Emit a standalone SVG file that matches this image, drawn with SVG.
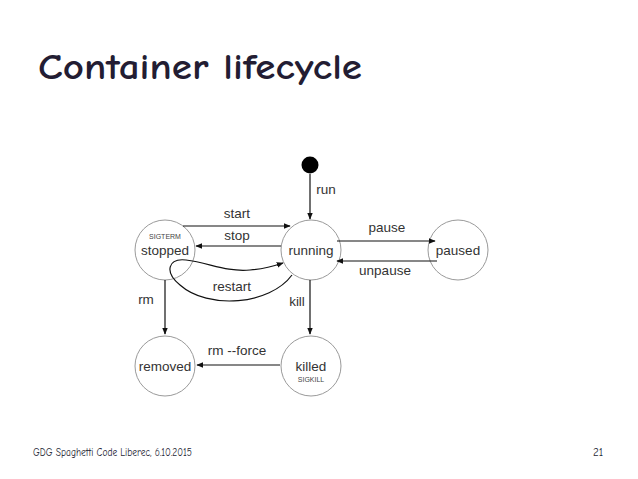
<svg xmlns="http://www.w3.org/2000/svg" width="638" height="479" viewBox="0 0 638 479">
<style>
.node{fill:#fff;stroke:#9a9a9a;stroke-width:1}
.lbl{font-family:"Liberation Sans",Arial,sans-serif;font-size:13.5px;fill:#333;text-anchor:middle}
.sm{font-family:"Liberation Sans",Arial,sans-serif;font-size:7px;fill:#444;text-anchor:middle}
.edge{fill:none;stroke:#111;stroke-width:1.2;marker-end:url(#ah)}
.el{font-family:"Liberation Sans",Arial,sans-serif;font-size:13.5px;fill:#333;text-anchor:middle}
</style>
<defs>
<marker id="ah" viewBox="0 0 10 10" refX="9" refY="5" markerWidth="7" markerHeight="7" markerUnits="userSpaceOnUse" orient="auto">
<path d="M0,1 L10,5 L0,9 z" fill="#111"/>
</marker>
</defs>
<rect width="638" height="479" fill="#fff"/>
<text x="38" y="79" font-family="'Comic Neue','DejaVu Sans',sans-serif" font-weight="bold" font-size="36" fill="#231d33" textLength="324" lengthAdjust="spacingAndGlyphs">Container lifecycle</text>
<g id="start"><circle cx="310" cy="165" r="8.5" fill="#000"/></g>
<g id="stopped"><circle class="node" cx="165" cy="250" r="30"/><text class="sm" x="165" y="239">SIGTERM</text><text class="lbl" x="165" y="255">stopped</text></g>
<g id="running"><circle class="node" cx="311" cy="250" r="30"/><text class="lbl" x="311" y="255">running</text></g>
<g id="paused"><circle class="node" cx="458" cy="250" r="30"/><text class="lbl" x="458" y="255">paused</text></g>
<g id="removed"><circle class="node" cx="165" cy="366" r="30"/><text class="lbl" x="165" y="371">removed</text></g>
<g id="killed"><circle class="node" cx="311" cy="366" r="30"/><text class="lbl" x="311" y="371">killed</text><text class="sm" x="311" y="382">SIGKILL</text></g>
<g id="connectors">
<path class="edge" d="M310,174 L310,219"/>
<text class="el" x="326" y="194">run</text>
<path class="edge" d="M183,226 L290,226"/>
<text class="el" x="237" y="218">start</text>
<path class="edge" d="M281,246 L196,246"/>
<text class="el" x="237" y="240">stop</text>
<path class="edge" d="M337,241 L435,241"/>
<text class="el" x="387" y="232">pause</text>
<path class="edge" d="M437,261 L337,261"/>
<text class="el" x="385" y="275">unpause</text>
<path class="edge" d="M165,280 L165,334"/>
<text class="el" x="146" y="304">rm</text>
<path class="edge" d="M310,280 L310,334"/>
<text class="el" x="297" y="306">kill</text>
<path class="edge" d="M280,365 L197,365"/>
<text class="el" x="237" y="355">rm --force</text>
<path class="edge" d="M292,275 C270,305 208,310 180,285 C164,272 168,258 186,260 C210,263 225,272 250,270 C264,269 274,266 283,263"/>
<text class="el" x="232" y="291">restart</text>
</g>
<text x="33" y="456" font-family="'Comic Neue','DejaVu Sans',sans-serif" font-size="11" fill="#231d33" textLength="159" lengthAdjust="spacingAndGlyphs">GDG Spaghetti Code Liberec, 6.10.2015</text>
<text x="593" y="456" font-family="'Comic Neue','DejaVu Sans',sans-serif" font-size="11" fill="#231d33">21</text>
</svg>
